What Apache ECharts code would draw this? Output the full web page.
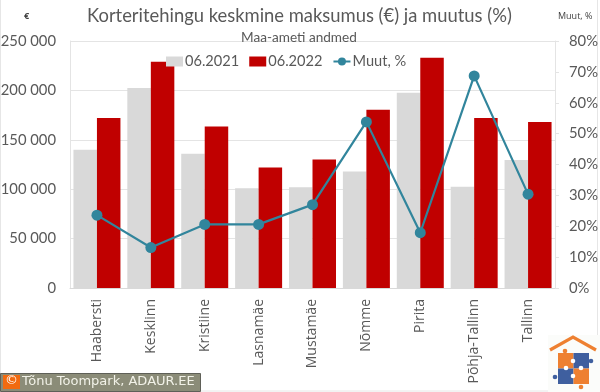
<!DOCTYPE html>
<html><head><meta charset="utf-8">
<style>html,body{margin:0;padding:0;background:#fff}#c{width:600px;height:392px}</style>
<script src="https://cdn.jsdelivr.net/npm/echarts@6/dist/echarts.min.js"></script>
</head><body><div id="c"></div>
<script>
const categories=["Haabersti","Kesklinn","Kristiine","Lasnamäe","Mustamäe","Nõmme","Pirita","Põhja-Tallinn","Tallinn"];
const y2021=[140000,202500,136000,101000,102000,118000,197500,102500,129500];
const y2022=[172000,229000,163500,122000,130000,180500,233000,172000,168000];
const change=[23.6,13.1,20.6,20.6,27,53.8,17.9,68.7,30.4];
const F='Lato, Carlito, sans-serif', G='#595959';
const fmt=v=>String(v).replace(/\B(?=(\d{3})+$)/g,' ');
const piece=(x,y,c)=>({type:'rect',shape:{x,y,width:15.5,height:15.5},style:{fill:c},silent:true});
const dot=(x,y,c)=>({type:'circle',shape:{cx:x,cy:y,r:2.3},style:{fill:c},silent:true});
const chart=echarts.init(document.getElementById('c'),null,{renderer:'canvas'});
chart.setOption({
 animation:false,backgroundColor:'#fff',
 title:[{text:'Korteritehingu keskmine maksumus (€) ja muutus (%)',left:87,top:7,padding:0,textStyle:{fontFamily:F,fontSize:18.4,fontWeight:'normal',color:G}},
        {text:'Maa-ameti andmed',left:241,top:31,padding:0,textStyle:{fontFamily:F,fontSize:13.6,fontWeight:'normal',color:G}}],
 legend:{left:166,top:54,padding:0,itemWidth:17,itemHeight:10,itemGap:10,textStyle:{fontFamily:F,fontSize:14.6,color:G,padding:[0,0,0,-3]},
   data:[{name:'06.2021',icon:'rect'},{name:'06.2022',icon:'rect'},{name:'Muut, %'}]},
 grid:{left:70,right:45,top:41,bottom:104,outerBoundsMode:'none'},
 xAxis:{type:'category',data:categories,axisTick:{show:false},axisLine:{lineStyle:{color:'#d9d9d9'}},
   axisLabel:{rotate:90,interval:0,margin:11,fontFamily:'"Open Sans", sans-serif',fontSize:14,color:G}},
 yAxis:[{type:'value',min:0,max:250000,interval:50000,axisLabel:{formatter:v=>fmt(v),fontFamily:F,fontSize:14.8,color:G,margin:14},
        axisLine:{show:true,lineStyle:{color:'#e4e4e4'}},axisTick:{show:false},splitLine:{lineStyle:{color:'#e4e4e4'}}},
        {type:'value',min:0,max:80,interval:10,position:'right',axisLabel:{formatter:'{value}%',fontFamily:F,fontSize:14.8,color:G,margin:14},
        axisLine:{show:true,lineStyle:{color:'#e4e4e4'}},axisTick:{show:true,length:4,lineStyle:{color:'#e4e4e4'}},splitLine:{show:false}}],
 series:[
  {name:'06.2021',type:'bar',data:y2021,barWidth:23.5,barGap:'0%',itemStyle:{color:'#d9d9d9'}},
  {name:'06.2022',type:'bar',data:y2022,barWidth:23.5,itemStyle:{color:'#c00000'}},
  {name:'Muut, %',type:'line',yAxisIndex:1,data:change,symbol:'circle',symbolSize:11,z:5,
   lineStyle:{color:'#31859c',width:2.2},itemStyle:{color:'#31859c'}}
 ],
 graphic:[
  {type:'rect',shape:{x:0.5,y:-1,width:597,height:392},style:{fill:'none',stroke:'#e6e6e6',lineWidth:1},silent:true},
  {type:'text',left:24,top:12,style:{text:'€',font:'bold 9px "Open Sans", sans-serif',fill:'#404040'}},
  {type:'text',left:558,top:12,style:{text:'Muut, %',font:'9px "Open Sans", sans-serif',fill:'#404040'}},
  {type:'rect',shape:{x:0.5,y:373.5,width:200,height:18},style:{fill:'#8b8c78',stroke:'#5f6058',lineWidth:1}},
  {type:'rect',shape:{x:3,y:375,width:17,height:14},style:{fill:'#f26a10'}},
  {type:'text',left:5,top:374,style:{text:'©',font:'13px "DejaVu Sans", sans-serif',fill:'#fff'}},
  {type:'text',left:22,top:375,style:{text:'Tõnu Toompark, ADAUR.EE',font:'13px "DejaVu Sans", sans-serif',fill:'#f2f2e8'}},
  {type:'rect',shape:{x:548,y:335,width:52,height:57},style:{fill:'#fbfcfa'}},
  {type:'polyline',shape:{points:[[550,350],[573,337],[596,350]]},style:{stroke:'#ee8031',fill:'none',lineWidth:3.2}},
  piece(558,353,'#ee8031'),piece(573.5,353,'#3f5f9f'),piece(558,368.5,'#3f5f9f'),piece(573.5,368.5,'#ee8031'),
  dot(565,351,'#ee8031'),dot(591,361,'#3f5f9f'),dot(555,377,'#3f5f9f'),dot(581,387,'#ee8031'),
  dot(573,361,'#ffffff'),dot(566,368,'#ffffff'),dot(581,368,'#ffffff'),dot(573,376,'#ffffff')
 ]
});
</script></body></html>
